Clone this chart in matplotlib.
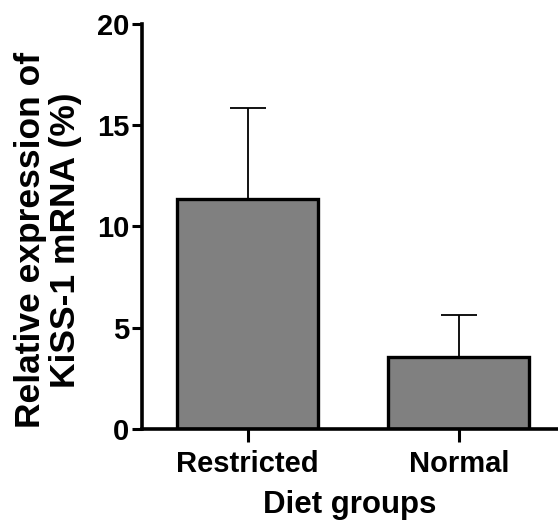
import numpy as np
import matplotlib.pyplot as plt

plt.rcParams['font.family'] = ['Liberation Sans', 'DejaVu Sans']
plt.rcParams['font.weight'] = 'bold'

# data
groups = ['Restricted', 'Normal']
means = [11.35, 3.55]
sd_upper = [4.5, 2.1]

fig = plt.figure(figsize=(5.58, 5.21), dpi=100)
ax = fig.add_axes([0.2545, 0.1766, 0.7455, 0.7774])

x = np.arange(len(groups))
ax.bar(x, means, width=0.67, color='#808080', edgecolor='black', linewidth=2.4, zorder=2)
ax.errorbar(x, means, yerr=[np.zeros(len(means)), sd_upper], fmt='none',
            ecolor='black', elinewidth=1.3, capsize=13, capthick=1.3, zorder=1)

ax.set_xlim(-0.5, 1.47)
ax.set_ylim(0, 20)
ax.set_yticks([0, 5, 10, 15, 20])
ax.set_xticks(x)
ax.set_xticklabels(groups)

for s in ['top', 'right']:
    ax.spines[s].set_visible(False)
for s in ['left', 'bottom']:
    ax.spines[s].set_linewidth(2.6)

ax.tick_params(axis='y', length=7, width=2.2, labelsize=21, pad=2)
ax.tick_params(axis='x', length=9, width=2.2, labelsize=21, pad=6)

ax.set_xlabel('Diet groups', fontsize=22.5, fontweight='bold', labelpad=9)
ax.set_ylabel('Relative expression of\nKiSS-1 mRNA (%)', fontsize=25.5,
              fontweight='bold', linespacing=1.1)
ax.yaxis.set_label_coords(-0.144, 0.467)

fig.savefig('out.png', dpi=100)
